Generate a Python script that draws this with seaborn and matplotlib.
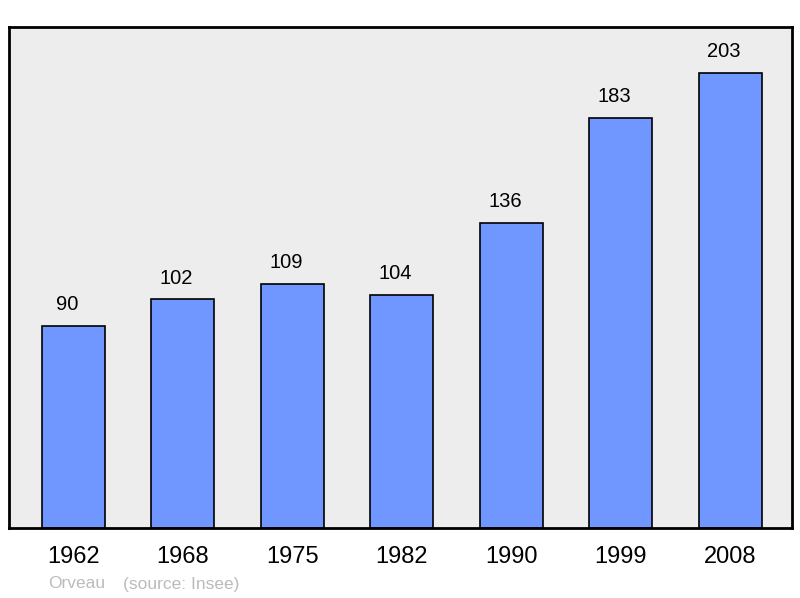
import matplotlib
matplotlib.use("Agg")
import matplotlib.pyplot as plt
import seaborn as sns
import pandas as pd

years = ["1962", "1968", "1975", "1982", "1990", "1999", "2008"]
population = [90, 102, 109, 104, 136, 183, 203]
commune = "Orveau"
source = "(source: Insee)"

df = pd.DataFrame({"year": years, "pop": population})

sns.set_theme(style="white")
plt.rcParams['font.family'] = ['Liberation Sans', 'DejaVu Sans']

fig = plt.figure(figsize=(8, 5.98), dpi=100)
ax = fig.add_axes([9/800, 70/598, 783/800, 501/598])
ax.set_facecolor("#EDEDED")

sns.barplot(data=df, x="year", y="pop", ax=ax, color="#7097FF", saturation=1,
            width=0.575, edgecolor="black", linewidth=1.2)

ax.set_ylim(0, 223.5)
ax.set_xlim(-0.585, 6.565)
ax.set_xlabel("")
ax.set_ylabel("")
ax.set_yticks([])
ax.tick_params(axis="x", length=0, labelsize=17, pad=13, colors="black")

for i, v in enumerate(population):
    ax.annotate(str(v), (i, v), xytext=(-4.3, 8.5), textcoords="offset points",
                ha="center", va="bottom", fontsize=14.5, color="black")

for s in ax.spines.values():
    s.set_color("black")
    s.set_linewidth(2)

fig.text(48/800, 1 - 584/598, commune, fontsize=12.5, color="#BBBBBB", va="center", ha="left")
fig.text(123/800, 1 - 584/598, source, fontsize=12.5, color="#BBBBBB", va="center", ha="left")

fig.savefig("out.png", dpi=100)
